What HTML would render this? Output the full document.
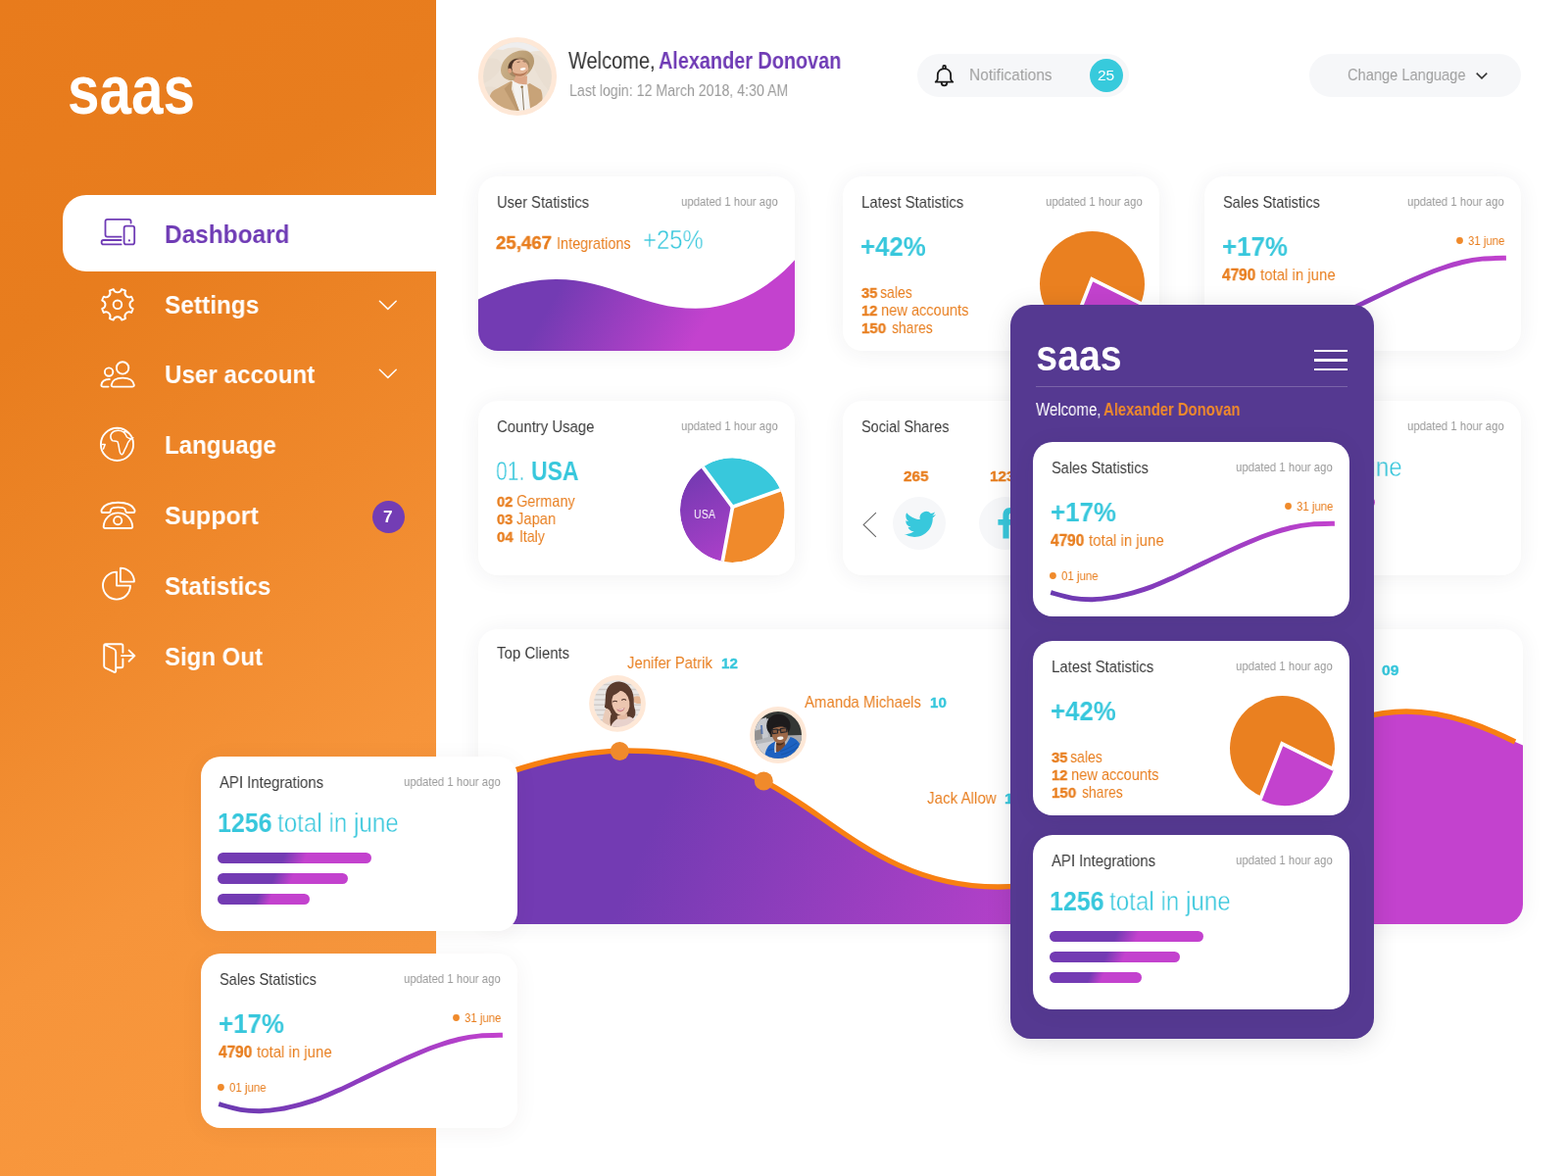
<!DOCTYPE html>
<html lang="en">
<head>
<meta charset="utf-8">
<title>saas dashboard</title>
<style>
*{box-sizing:border-box;margin:0;padding:0}
html,body{width:1600px;height:1200px;overflow:hidden;background:#fff}
body{position:relative;font-family:"Liberation Sans",sans-serif;}
.abs{position:absolute}
.t{position:absolute;white-space:nowrap;line-height:1;transform-origin:0 50%;will-change:transform;}
.t b{font-weight:700}
.th{-webkit-text-stroke:0.45px #fff}
.hv{-webkit-text-stroke:0.35px currentColor}
.side{position:absolute;left:0;top:0;width:445px;height:1200px;background:linear-gradient(146deg,#E87B1C 0%,#E87D1E 24%,#EF882B 47%,#F6943A 68%,#FA9A40 100%);}
.card{position:absolute;width:323px;height:177.5px;background:#fff;border-radius:20px;box-shadow:0 2px 22px rgba(40,40,60,0.065);overflow:hidden}
.pill{position:absolute;background:#F6F7F9;border-radius:22px;height:44px;top:55px}
.bar{position:absolute;height:11px;border-radius:6px;background:linear-gradient(112deg,#733BB3 0%,#733BB3 43%,#C342CE 57%,#C342CE 100%)}
svg{position:absolute;overflow:visible}
</style>
</head>
<body>
<svg width="0" height="0" style="left:0;top:0"><defs>
<linearGradient id="gw" gradientUnits="userSpaceOnUse" x1="111.7" y1="64.5" x2="238.2" y2="137.5"><stop offset="0" stop-color="#733BB3"/><stop offset="1" stop-color="#C342CE"/></linearGradient>
<linearGradient id="gl" x1="0" y1="0" x2="1" y2="0"><stop offset="0" stop-color="#6A3AB0"/><stop offset="0.45" stop-color="#8A3CBE"/><stop offset="1" stop-color="#C342CE"/></linearGradient>
<linearGradient id="gp" x1="0.2" y1="0" x2="0.8" y2="1"><stop offset="0" stop-color="#733BB3"/><stop offset="1" stop-color="#B240C9"/></linearGradient>
<linearGradient id="gt" gradientUnits="userSpaceOnUse" x1="700" y1="760" x2="1130" y2="940"><stop offset="0" stop-color="#733BB3"/><stop offset="1" stop-color="#C342CE"/></linearGradient>
</defs></svg>

<div class="side"></div>
<div class="abs" style="left:63.5px;top:199.3px;width:381.5px;height:77.4px;background:#fff;border-radius:24px 0 0 24px"></div>
<svg width="140" height="54" viewBox="0 0 140 54" style="left:64px;top:70px"><text x="5" y="45.5" font-family="Liberation Sans, sans-serif" font-size="70" font-weight="700" fill="#fff" textLength="130" lengthAdjust="spacingAndGlyphs">saas</text></svg>
<div class="t" style="left:167.90px;top:227.00px;font-size:25.5px;color:#6F3BB5;font-weight:700;transform:scaleX(0.9572);">Dashboard</div>
<div class="t" style="left:167.90px;top:299.00px;font-size:25.5px;color:#fff;font-weight:700;transform:scaleX(0.9573);">Settings</div>
<div class="t" style="left:167.90px;top:370.00px;font-size:25.5px;color:#fff;font-weight:700;transform:scaleX(0.9489);">User account</div>
<div class="t" style="left:167.90px;top:442.00px;font-size:25.5px;color:#fff;font-weight:700;transform:scaleX(0.9449);">Language</div>
<div class="t" style="left:167.90px;top:514.00px;font-size:25.5px;color:#fff;font-weight:700;transform:scaleX(0.9802);">Support</div>
<div class="t" style="left:167.90px;top:586.00px;font-size:25.5px;color:#fff;font-weight:700;transform:scaleX(0.9551);">Statistics</div>
<div class="t" style="left:167.90px;top:658.00px;font-size:25.5px;color:#fff;font-weight:700;transform:scaleX(0.9413);">Sign Out</div>
<svg width="445" height="1200" viewBox="0 0 445 1200" style="left:0;top:0"><g fill="none" stroke="#6F3BB5" stroke-width="1.8" stroke-linecap="round" stroke-linejoin="round"><path d="M133.6,227.6 L133.6,226 Q133.6,223.9 131.5,223.9 L109.6,223.9 Q107.5,223.9 107.5,226 L107.5,239.6 Q107.5,241.7 109.6,241.7 L123.6,241.7"/><path d="M123.6,245 L105.6,245 Q103.6,245 103.6,247.2 Q103.6,249.4 105.6,249.4 L123.6,249.4"/><rect x="126.6" y="230.7" width="10.6" height="18.7" rx="2.2"/></g><circle cx="131.9" cy="245.4" r="1.1" fill="#6F3BB5"/><path d="M135.69,315.02 A16.3,16.3 0 0 1 134.07,318.95 A4.35,4.35 0 0 0 128.10,324.92 A16.3,16.3 0 0 1 124.17,326.54 A4.35,4.35 0 0 0 115.73,326.54 A16.3,16.3 0 0 1 111.80,324.92 A4.35,4.35 0 0 0 105.83,318.95 A16.3,16.3 0 0 1 104.21,315.02 A4.35,4.35 0 0 0 104.21,306.58 A16.3,16.3 0 0 1 105.83,302.65 A4.35,4.35 0 0 0 111.80,296.68 A16.3,16.3 0 0 1 115.73,295.06 A4.35,4.35 0 0 0 124.17,295.06 A16.3,16.3 0 0 1 128.10,296.68 A4.35,4.35 0 0 0 134.07,302.65 A16.3,16.3 0 0 1 135.69,306.58 A4.35,4.35 0 0 0 135.69,315.02 Z" fill="none" stroke="#fff" stroke-width="1.9" stroke-linecap="round" stroke-linejoin="round"/><circle cx="119.95" cy="310.8" r="4.3" fill="none" stroke="#fff" stroke-width="1.9" stroke-linecap="round" stroke-linejoin="round"/><circle cx="125.1" cy="375.4" r="6.2" fill="none" stroke="#fff" stroke-width="1.9" stroke-linecap="round" stroke-linejoin="round"/><path d="M115.6,394.6 L134.9,394.6 Q136.9,394.6 136.8,392.8 C136,388.2 131.5,385.6 125.2,385.6 C118.9,385.6 114.4,388.2 113.7,392.8 Q113.6,394.6 115.6,394.6 Z" fill="none" stroke="#fff" stroke-width="1.9" stroke-linecap="round" stroke-linejoin="round"/><circle cx="111.1" cy="379.6" r="4.2" fill="none" stroke="#fff" stroke-width="1.9" stroke-linecap="round" stroke-linejoin="round"/><path d="M111.8,387 C107,386.9 103.9,389.4 103.4,392.9 Q103.3,394.6 105.2,394.6 L110.6,394.6" fill="none" stroke="#fff" stroke-width="1.9" stroke-linecap="round" stroke-linejoin="round"/><circle cx="119.5" cy="453.4" r="16.6" fill="none" stroke="#fff" stroke-width="1.9" stroke-linecap="round" stroke-linejoin="round"/><path d="M116.5,440 C119.5,439 123.5,439.3 126,440.8 C128,442.2 128.3,444 129.5,446 C131,447.3 133,447.5 133.6,448 C131.8,450 130.6,451 129.8,453.5 C129.3,456 127.8,457.5 127,459.5 C126.2,461.5 125.8,463.3 124.6,463.8 C122.6,464 122.3,461.5 121.8,459 C121.3,456.2 121.2,453.5 120,450.8 C118.3,449.3 116,450.3 114.6,449.6 C113.2,448.3 112.7,446 113,444 C113.6,442 114.8,440.8 116.5,440 Z M133.6,448 L135.8,446.6 M126,440.8 C128.3,439.9 129.6,440.5 130.6,441.8 M104.3,453.6 L107.2,453.6 L105.5,458" fill="none" stroke="#fff" stroke-width="1.5" stroke-linecap="round" stroke-linejoin="round"/><path d="M104.6,523 C103.2,523 103.4,521 103.8,519.8 C106,515 112.5,512.7 120.5,512.7 C128.5,512.7 135,515 137.2,519.8 C137.6,521 137.8,523 136.4,523 L129.6,523 C128,523 128.4,521 127.6,519.6 C126.6,518 123.6,517.6 120.5,517.6 C117.4,517.6 114.4,518 113.4,519.6 C112.6,521 113,523 111.4,523 Z" fill="none" stroke="#fff" stroke-width="1.9" stroke-linecap="round" stroke-linejoin="round"/><path d="M107.6,539 L133.3,539 Q135.4,539 135.2,537 C134.6,529.5 128.6,523.4 120.4,523.4 C112.2,523.4 106.3,529.5 105.7,537 Q105.5,539 107.6,539 Z" fill="none" stroke="#fff" stroke-width="1.9" stroke-linecap="round" stroke-linejoin="round"/><circle cx="120.2" cy="531.2" r="4.1" fill="none" stroke="#fff" stroke-width="1.9" stroke-linecap="round" stroke-linejoin="round"/><path d="M119,583.6 A14,14 0 1 0 133,597.6 L119,597.6 Z" fill="none" stroke="#fff" stroke-width="1.9" stroke-linecap="round" stroke-linejoin="round"/><path d="M122.9,579.6 A14,14 0 0 1 136.9,593.6 L122.9,593.6 Z" fill="none" stroke="#fff" stroke-width="1.9" stroke-linecap="round" stroke-linejoin="round"/><path d="M125.4,665.8 L125.4,659 Q125.4,657.2 123.6,657.2 L107.8,657.2 Q106.2,657.2 106.2,659 L106.2,679.6 Q106.2,681 107.6,681.6 L116.6,685.8 Q118.2,686.4 118.2,684.6 L118.2,665.6 Q118.2,663 116,662 L106.8,658 M118.4,681.3 L123.6,681.3 Q125.4,681.3 125.4,679.5 L125.4,672.4" fill="none" stroke="#fff" stroke-width="1.9" stroke-linecap="round" stroke-linejoin="round"/><path d="M124,669.1 L137.2,669.1 M131.6,663.6 L137.4,669.1 L131.6,674.8" fill="none" stroke="#fff" stroke-width="1.9" stroke-linecap="round" stroke-linejoin="round"/></svg>
<svg width="20" height="12" viewBox="0 0 20 12" style="left:386px;top:306px"><path d="M1.4,1.3 L9.8,9.4 L18.2,1.3" fill="none" stroke="#fff" stroke-width="1.5" stroke-linecap="round" stroke-linejoin="round"/></svg>
<svg width="20" height="12" viewBox="0 0 20 12" style="left:386px;top:376px"><path d="M1.4,1.3 L9.8,9.4 L18.2,1.3" fill="none" stroke="#fff" stroke-width="1.5" stroke-linecap="round" stroke-linejoin="round"/></svg>
<div class="abs" style="left:379.7px;top:511px;width:33px;height:33px;border-radius:50%;background:#733DB4"></div>
<div class="t" style="left:391.20px;top:519.00px;font-size:16.5px;color:#fff;font-weight:700;transform:scaleX(1.0449);">7</div>
<svg width="90" height="90" viewBox="0 0 90 90" style="left:483px;top:33px"><defs><clipPath id="ca0"><circle cx="45" cy="45" r="34.9"/></clipPath><linearGradient id="hat" x1="0" y1="0" x2="1" y2="1"><stop offset="0" stop-color="#CDB38C"/><stop offset="1" stop-color="#B2946A"/></linearGradient></defs><circle cx="45" cy="45" r="40.1" fill="#FEE8D7"/><g clip-path="url(#ca0)"><rect x="8" y="8" width="74" height="74" fill="#ECE2D6"/><path d="M8,8 H82 V22 C72,17 64,19 58,20 C50,15 38,14 30,18 C22,16 14,20 8,24 Z" fill="#EFEEEE"/><path d="M10,30 C18,24 26,26 30,34 C24,44 16,50 10,52 Z M60,22 C68,22 76,30 80,40 L80,62 C72,56 66,44 62,36 Z M12,56 C20,54 28,58 30,64 L14,70 Z" fill="#E6DACB" opacity="0.5"/><ellipse cx="45" cy="33.9" rx="18.6" ry="13.4" transform="rotate(-36 45 33.9)" fill="url(#hat)"/><ellipse cx="46.2" cy="35.6" rx="11.5" ry="9.6" transform="rotate(-30 46.2 35.6)" fill="#8F7352" opacity="0.55"/><path d="M35.6,36.5 C35.2,31.5 39.5,27.2 44.5,27 C47,26.9 49.5,27.2 51.4,28.4 L49,31 L40,38 L37.6,41 Z" fill="#4B3427"/><path d="M41,50.5 L43.2,44 L55,44.5 L54.6,53.5 L47,55 Z" fill="#DCA585"/><ellipse cx="47.8" cy="36.4" rx="8.4" ry="9.2" transform="rotate(-22 47.8 36.4)" fill="#E4B595"/><path d="M39.8,40.5 C41.6,44.6 46,45.6 50.4,44.2 C53.4,43.1 55.4,40.8 55.8,38 C54.2,40.8 51,42.6 47.4,42.4 C44.2,42.2 41.4,41.6 39.8,40.5 Z" fill="#B67B58"/><ellipse cx="37.2" cy="39.2" rx="1.9" ry="2.6" fill="#DCA27F"/><ellipse cx="50.6" cy="37.4" rx="2.9" ry="1.25" transform="rotate(-8 50.6 37.4)" fill="#fff"/><path d="M44.6,30.6 L47.6,30 M50.6,29.6 L53.4,30.2" stroke="#6b4a38" stroke-width="0.7" fill="none"/><path d="M38.8,49 L46.4,52.6 L55.2,53.4 L58.6,82 L46.4,82 Z" fill="#F4F2F0"/><path d="M16.4,66.6 C17.6,62 19.4,60 22,58.6 L38.6,49.6 L40,50.4 L38.8,58 L47.6,82 L20,82 Z" fill="#CCA87E"/><path d="M31.5,57.6 L38.8,50.2 L38.8,58 L47.6,82 L45.4,82 Z" fill="#B8946A" opacity="0.8"/><path d="M55.2,53 L57.6,52 L68.8,58.6 C70.4,62 70.8,66 70.4,69 L66,82 L58.6,82 Z" fill="#C8A378"/><path d="M49.9,57 L51.6,80" stroke="#7A6748" stroke-width="0.9"/><circle cx="49.6" cy="55.8" r="1.25" fill="#8A6A3A"/></g></svg>
<div class="t" style="left:580.30px;top:51.00px;font-size:23px;color:#333;transform:scaleX(0.8691);">Welcome,</div>
<div class="t" style="left:672.00px;top:51.00px;font-size:23px;color:#6F3BB5;font-weight:700;transform:scaleX(0.8625);">Alexander Donovan</div>
<div class="t" style="left:581.30px;top:84.00px;font-size:17px;color:#9c9c9c;transform:scaleX(0.8349);">Last login: 12 March 2018, 4:30 AM</div>
<div class="pill" style="left:936px;width:216px"></div>
<div class="pill" style="left:1336px;width:216px"></div>
<svg width="24" height="26" viewBox="0 0 24 26" style="left:952px;top:64px"><g fill="none" stroke="#1c1c1c" stroke-width="1.8" stroke-linejoin="round" stroke-linecap="round"><path d="M10.3,5.6 L10.3,3.9 Q10.3,3 11.2,3 L12,3 Q12.9,3 12.9,3.9 L12.9,5.6"/><path d="M4.8,16.4 L4.8,12.6 C4.8,8.7 7.6,6.1 11.5,6.1 C15.4,6.1 18.1,8.7 18.1,12.6 L18.1,16.4 C18.1,17.9 19.2,18.7 20.3,19.7 L2.7,19.7 C3.8,18.7 4.8,17.9 4.8,16.4 Z"/><path d="M8.7,20.4 C8.8,22.3 10,23.4 11.5,23.4 C13,23.4 14.2,22.3 14.3,20.4"/></g></svg>
<div class="t" style="left:989.00px;top:68.00px;font-size:17px;color:#9e9e9e;transform:scaleX(0.9135);">Notifications</div>
<div class="abs" style="left:1111.8px;top:59.8px;width:34px;height:34px;border-radius:50%;background:#37CADC"></div>
<div class="t" style="left:1120.40px;top:69.00px;font-size:15.5px;color:#fff;transform:scaleX(0.9739);">25</div>
<div class="t" style="left:1375.40px;top:68.00px;font-size:17px;color:#9e9e9e;transform:scaleX(0.8612);">Change Language</div>
<svg width="14" height="9" viewBox="0 0 14 9" style="left:1504.5px;top:73px"><path d="M1.7,1.6 L7,6.9 L12.3,1.6" fill="none" stroke="#333" stroke-width="1.5"/></svg>
<div class="card" style="left:488px;top:180px;"><svg width="323" height="178" viewBox="0 0 323 178" style="left:0;top:0"><path d="M0,125.6 C27,112 52,104.9 79.5,104.9 C135,104.9 168,134.8 221.7,134.8 C262,134.8 298,113 323,85.2 L323,178 L0,178 Z" fill="url(#gw)"/></svg></div>
<div class="t" style="left:506.70px;top:198.00px;font-size:17px;color:#3b3b3b;transform:scaleX(0.8652);">User Statistics</div><div class="t" style="left:694.80px;top:199.00px;font-size:13.5px;color:#9a9a9a;transform:scaleX(0.8437);">updated 1 hour ago</div>
<div class="t" style="left:506.20px;top:238.00px;font-size:19px;color:#E87E1F;transform:scaleX(0.9806);"><b class="hv">25,467</b></div>
<div class="t" style="left:568.00px;top:240.00px;font-size:17px;color:#E87E1F;transform:scaleX(0.8509);"><span>Integrations</span></div>
<div class="t" style="left:655.60px;top:232.00px;font-size:27px;color:#37C7DC;transform:scaleX(0.8852);"><span class="th">+25%</span></div>
<div class="card" style="left:860px;top:180px;"><svg width="323" height="178" viewBox="0 0 323 178" style="left:0;top:0"><circle cx="254.5" cy="109.6" r="53.5" fill="#EA8020"/><path d="M254.2,104.9 L307.0,131.1 A52.4,52.4 0 0 1 231.9,161.8 Z" fill="#C342CE"/><path d="M307.0,131.1 L254.2,104.9 L231.9,161.8" fill="none" stroke="#fff" stroke-width="3.7" stroke-linejoin="miter" stroke-linecap="butt"/></svg></div><div class="t" style="left:878.70px;top:198.00px;font-size:17px;color:#3b3b3b;transform:scaleX(0.8760);">Latest Statistics</div><div class="t" style="left:1066.80px;top:199.00px;font-size:13.5px;color:#9a9a9a;transform:scaleX(0.8437);">updated 1 hour ago</div><div class="t" style="left:878.00px;top:239.00px;font-size:27px;color:#37C7DC;font-weight:700;transform:scaleX(0.9568);">+42%</div><div class="t" style="left:878.50px;top:291.00px;font-size:15.5px;color:#E87E1F;font-weight:700;transform:scaleX(0.9565);"><span class="hv">35</span></div><div class="t" style="left:898.00px;top:290.00px;font-size:17px;color:#E87E1F;transform:scaleX(0.8265);"><span>sales</span></div><div class="t" style="left:878.50px;top:309.00px;font-size:15.5px;color:#E87E1F;font-weight:700;transform:scaleX(0.9565);"><span class="hv">12</span></div><div class="t" style="left:898.80px;top:308.00px;font-size:17px;color:#E87E1F;transform:scaleX(0.8600);"><span>new accounts</span></div><div class="t" style="left:878.50px;top:327.00px;font-size:15.5px;color:#E87E1F;font-weight:700;transform:scaleX(0.9739);"><span class="hv">150</span></div><div class="t" style="left:909.80px;top:326.00px;font-size:17px;color:#E87E1F;transform:scaleX(0.8171);"><span>shares</span></div>
<div class="card" style="left:1229px;top:180px;"><svg width="323" height="178" viewBox="0 0 323 178" style="left:0;top:0"><path d="M18.2,153.6 C21.9,154.6 33.4,158.1 40.5,159.3 C47.6,160.5 54.0,160.8 60.8,160.7 C67.5,160.6 74.2,159.8 81,158.7 C87.8,157.6 94.5,155.9 101.3,154.1 C108.0,152.2 114.8,150.1 121.5,147.6 C128.2,145.1 135.1,141.9 141.8,138.9 C148.6,135.9 155.2,132.6 162,129.4 C168.8,126.2 175.6,122.8 182.3,119.6 C189.1,116.4 195.8,113.2 202.5,110.1 C209.2,107.0 216.1,104.0 222.8,101.2 C229.6,98.4 236.2,95.8 243,93.5 C249.8,91.2 256.6,89.1 263.3,87.5 C270.1,85.9 276.1,84.8 283.5,84.1 C290.9,83.4 303.8,83.3 307.9,83.2" fill="none" stroke="url(#gl)" stroke-width="4.9"/>
<circle cx="260.5" cy="65.5" r="3.4" fill="#F08A2B"/><circle cx="20.4" cy="136.5" r="3.4" fill="#F08A2B"/></svg></div><div class="t" style="left:1247.70px;top:198.00px;font-size:17px;color:#3b3b3b;transform:scaleX(0.8572);">Sales Statistics</div><div class="t" style="left:1435.80px;top:199.00px;font-size:13.5px;color:#9a9a9a;transform:scaleX(0.8437);">updated 1 hour ago</div><div class="t" style="left:1246.80px;top:239.00px;font-size:27px;color:#37C7DC;font-weight:700;transform:scaleX(0.9597);">+17%</div><div class="t" style="left:1247.00px;top:273.00px;font-size:16px;color:#E87E1F;font-weight:700;transform:scaleX(0.9608);"><span class="hv">4790</span></div><div class="t" style="left:1285.50px;top:272.00px;font-size:17px;color:#E87E1F;transform:scaleX(0.8821);"><span>total in june</span></div><div class="t" style="left:1498.30px;top:239.00px;font-size:13.5px;color:#E87E1F;transform:scaleX(0.8443);">31 june</div><div class="t" style="left:1258.00px;top:310.00px;font-size:13.5px;color:#E87E1F;transform:scaleX(0.8488);">01 june</div>
<div class="card" style="left:488px;top:409px;"><svg width="323" height="178" viewBox="0 0 323 178" style="left:0;top:0"><defs><clipPath id="cp3"><circle cx="259.30" cy="111.60" r="53.30"/></clipPath><linearGradient id="gp3" gradientUnits="userSpaceOnUse" x1="215" y1="80" x2="258" y2="165"><stop offset="0" stop-color="#773AB3"/><stop offset="1" stop-color="#AE40CA"/></linearGradient></defs><g clip-path="url(#cp3)"><path d="M259.50,108.30 L229.21,67.61 A53.3,53.3 0 0 1 308.36,90.78 Z" fill="#38C8DC"/><path d="M259.50,108.30 L308.36,90.78 A53.3,53.3 0 0 1 249.21,163.94 Z" fill="#F08A2B"/><path d="M259.50,108.30 L249.21,163.94 A53.3,53.3 0 0 1 229.21,67.61 Z" fill="url(#gp3)"/><path d="M259.50,108.30 L220.12,55.40" stroke="#fff" stroke-width="3.7" stroke-linecap="round"/><path d="M259.50,108.30 L323.02,85.52" stroke="#fff" stroke-width="3.7" stroke-linecap="round"/><path d="M259.50,108.30 L246.12,180.63" stroke="#fff" stroke-width="3.7" stroke-linecap="round"/></g></svg></div>
<div class="t" style="left:506.70px;top:427.00px;font-size:17px;color:#3b3b3b;transform:scaleX(0.8766);">Country Usage</div><div class="t" style="left:694.80px;top:428.00px;font-size:13.5px;color:#9a9a9a;transform:scaleX(0.8437);">updated 1 hour ago</div>
<div class="t" style="left:505.90px;top:468.00px;font-size:27px;color:#37C7DC;transform:scaleX(0.7830);"><span class="th">01.</span></div>
<div class="t" style="left:542.20px;top:468.00px;font-size:27px;color:#37C7DC;font-weight:700;transform:scaleX(0.8506);">USA</div>
<div class="t" style="left:506.60px;top:504.00px;font-size:15.5px;color:#E87E1F;font-weight:700;transform:scaleX(0.9507);"><span class="hv">02</span></div>
<div class="t" style="left:526.75px;top:503.00px;font-size:16.5px;color:#E87E1F;transform:scaleX(0.8805);"><span>Germany</span></div>
<div class="t" style="left:506.60px;top:522.00px;font-size:15.5px;color:#E87E1F;font-weight:700;transform:scaleX(0.9507);"><span class="hv">03</span></div>
<div class="t" style="left:526.75px;top:521.00px;font-size:16.5px;color:#E87E1F;transform:scaleX(0.8951);"><span>Japan</span></div>
<div class="t" style="left:506.60px;top:540.00px;font-size:15.5px;color:#E87E1F;font-weight:700;transform:scaleX(0.9739);"><span class="hv">04</span></div>
<div class="t" style="left:529.70px;top:539.00px;font-size:16.5px;color:#E87E1F;transform:scaleX(0.8525);"><span>Italy</span></div>
<div class="t" style="left:707.70px;top:519.00px;font-size:12px;color:#fff;transform:scaleX(0.8871);">USA</div>
<div class="card" style="left:860px;top:409px;"><div class="abs" style="left:50.9px;top:98px;width:54px;height:54px;border-radius:50%;background:#F6F7F9"></div><div class="abs" style="left:139.1px;top:98px;width:54px;height:54px;border-radius:50%;background:#F6F7F9"></div><svg width="16" height="28" viewBox="0 0 16 28" style="left:20.0px;top:113.0px"><path d="M13.9,1.1 L1.2,13.4 L13.9,25.8" fill="none" stroke="#6a6a6a" stroke-width="1.15"/></svg><svg width="32" height="32" viewBox="0 0 24 24" style="left:63.1px;top:109.9px"><path fill="#38C8DC" d="M23.953 4.57a10 10 0 01-2.825.775 4.958 4.958 0 002.163-2.723c-.951.555-2.005.959-3.127 1.184a4.92 4.92 0 00-8.384 4.482C7.69 8.095 4.067 6.13 1.64 3.162a4.822 4.822 0 00-.666 2.475c0 1.71.87 3.213 2.188 4.096a4.904 4.904 0 01-2.228-.616v.06a4.923 4.923 0 003.946 4.827 4.996 4.996 0 01-2.212.085 4.936 4.936 0 004.604 3.417 9.867 9.867 0 01-6.102 2.105c-.39 0-.779-.023-1.17-.067a13.995 13.995 0 007.557 2.209c9.053 0 13.998-7.496 13.998-13.985 0-.21 0-.42-.015-.63A9.935 9.935 0 0024 4.59z"/></svg><svg width="19.7" height="31.5" viewBox="0 0 320 512" style="left:156.5px;top:109.4px"><path fill="#38C8DC" d="M279.14 288l14.22-92.66h-88.91v-60.13c0-25.35 12.42-50.06 52.24-50.06h40.42V6.26S260.43 0 225.36 0c-73.22 0-121.08 44.38-121.08 124.72v70.62H22.89V288h81.39v224h100.17V288z"/></svg></div>
<div class="t" style="left:878.70px;top:427.00px;font-size:17px;color:#3b3b3b;transform:scaleX(0.8523);">Social Shares</div>
<div class="t" style="left:921.50px;top:478.00px;font-size:15.5px;color:#E87E1F;font-weight:700;transform:scaleX(0.9855);"><span class="hv">265</span></div>
<div class="t" style="left:1010.40px;top:478.00px;font-size:15.5px;color:#E87E1F;font-weight:700;transform:scaleX(0.9855);"><span class="hv">123</span></div>
<div class="card" style="left:1229px;top:409px;"><div class="bar" style="left:17px;top:98px;width:157px"></div><div class="bar" style="left:17px;top:119px;width:133px"></div><div class="bar" style="left:17px;top:140px;width:94px"></div></div><div class="t" style="left:1247.70px;top:427.00px;font-size:17px;color:#3b3b3b;transform:scaleX(0.8771);">API Integrations</div><div class="t" style="left:1435.80px;top:428.00px;font-size:13.5px;color:#9a9a9a;transform:scaleX(0.8437);">updated 1 hour ago</div><div class="t" style="left:1245.90px;top:464.00px;font-size:27px;color:#37C7DC;font-weight:700;transform:scaleX(0.9255);">1256</div><div class="t" style="left:1307.10px;top:464.00px;font-size:27px;color:#37C7DC;transform:scaleX(0.8964);"><span class="th">total in june</span></div>
<div class="abs" style="left:488px;top:642px;width:1065.5px;height:300.5px;background:#fff;border-radius:20px;box-shadow:0 2px 22px rgba(40,40,60,0.065);overflow:hidden"><svg width="1066" height="301" viewBox="488 642 1066 301" style="left:0;top:0"><path d="M488,801 C530,781 590,766 640,766 C700,766 742,778 779,797 C850,833 905,905 1019,905 C1150,905 1300,726 1435,726 C1480,726 1520,744 1546,757 L1554,760.5 L1554,943 L488,943 Z" fill="url(#gt)"/><path d="M488,801 C530,781 590,766 640,766 C700,766 742,778 779,797 C850,833 905,905 1019,905 C1150,905 1300,726 1435,726 C1480,726 1520,744 1546,757" fill="none" stroke="#F88012" stroke-width="5.4"/><circle cx="632.3" cy="766.5" r="9.5" fill="#F08A2B"/><circle cx="779.3" cy="797" r="9.5" fill="#F08A2B"/></svg></div>
<div class="t" style="left:507.30px;top:658.00px;font-size:17px;color:#3b3b3b;transform:scaleX(0.8822);">Top Clients</div>
<div class="t" style="left:640.00px;top:668.00px;font-size:17px;color:#E87E1F;transform:scaleX(0.8750);"><span>Jenifer Patrik</span></div>
<div class="t" style="left:735.50px;top:669.00px;font-size:15px;color:#37C7DC;font-weight:700;transform:scaleX(1.0067);"><span class="hv">12</span></div>
<div class="t" style="left:821.30px;top:708.00px;font-size:17px;color:#E87E1F;transform:scaleX(0.8807);"><span>Amanda Michaels</span></div>
<div class="t" style="left:949.00px;top:709.00px;font-size:15px;color:#37C7DC;font-weight:700;transform:scaleX(1.0067);"><span class="hv">10</span></div>
<div class="t" style="left:945.50px;top:806.00px;font-size:17px;color:#E87E1F;transform:scaleX(0.8907);"><span>Jack Allow</span></div>
<div class="t" style="left:1025.00px;top:807.00px;font-size:15px;color:#37C7DC;font-weight:700;transform:scaleX(1.0593);"><span class="hv">11</span></div>
<div class="t" style="left:1409.50px;top:676.00px;font-size:15px;color:#37C7DC;font-weight:700;transform:scaleX(1.0487);"><span class="hv">09</span></div>
<svg width="68" height="68" viewBox="0 0 68 68" style="left:596px;top:684px"><defs><clipPath id="ca1"><circle cx="34" cy="33.9" r="24"/></clipPath></defs><circle cx="34" cy="33.9" r="28.9" fill="#FEE8D7"/><g clip-path="url(#ca1)"><rect x="9" y="9" width="50" height="50" fill="#E9E6E4"/><path d="M9,14.5 H59 M9,19.6 H59 M9,24.8 H59 M9,30 H59 M9,35.2 H59 M9,40.4 H59 M9,45.6 H59 M9,50.8 H59" stroke="#D2CCC8" stroke-width="1.5"/><path d="M50.5,27 C53,25.6 56.6,26 58.5,27.4 L58.5,33.6 C55.6,34.6 52.4,34 50.6,32.6 Z" fill="#E6B896"/><path d="M36,11.6 C28.6,11.2 23.2,16.6 22.2,23.6 C21.4,29.6 22,33.6 20.8,37.6 C24,40 26.4,42 27.6,44.4 C26,48 24.6,51.6 27,57.6 L35,57.6 L50,49 C52.6,46.6 53,42.6 51.6,39 C50,34.6 51.4,30 50.2,25.4 C48.8,18 43.6,12 36,11.6 Z" fill="#5A3B2D"/><path d="M18.6,52 C19.6,47 20.4,42.4 22.4,39 C24.6,38.6 27,41 27.6,44.6 C26.4,48.6 26,52.6 27.4,57.6 L19,57.6 Z" fill="#EACBB8"/><path d="M27,58 C29,52.6 34,48.4 38.6,47.6 L46.4,47.2 C50,48.4 53.6,51.6 55,58 Z" fill="#E8D2CC"/><path d="M33.6,46.6 L43.6,44 L44.6,48.6 C41.6,50.6 37,50.6 34,49.4 Z" fill="#E3B9A2"/><ellipse cx="37.4" cy="33.4" rx="9" ry="12.6" transform="rotate(-9 37.4 33.4)" fill="#ECC6B0"/><path d="M28.4,26 C29.6,20.6 34,17.6 38.6,18.2 C42,18.8 44.8,21 46.2,24.6 C42.6,23.4 40,21.6 38,19.8 C35.6,22.6 32,25 28.4,26 Z" fill="#5A3B2D"/><path d="M33.2,39.4 C35.6,40.2 39.6,39.6 41.6,37.8 C41.2,40.6 39.4,42.2 37.2,42.2 C35.2,42.2 33.8,41 33.2,39.4 Z" fill="#C77B7E"/><path d="M34,39.6 C36,40.2 39,39.8 40.8,38.6 C40,40 38.6,40.6 37,40.6 C35.8,40.6 34.6,40.2 34,39.6 Z" fill="#fff"/><path d="M29.6,32 C30.6,31.2 32.4,31.2 33.4,31.8 M38.6,30.2 C39.8,29.4 41.6,29.4 42.6,30.2" stroke="#4a3027" stroke-width="1.1" fill="none" stroke-linecap="round"/></g></svg><svg width="68" height="68" viewBox="0 0 68 68" style="left:760px;top:716px"><defs><clipPath id="ca2"><circle cx="34" cy="34" r="24"/></clipPath></defs><circle cx="34" cy="34" r="28.9" fill="#FEE8D7"/><g clip-path="url(#ca2)"><rect x="9" y="9" width="50" height="50" fill="#343835"/><path d="M9,22 L24,17 L26,36 L58,35 L58,59 L9,59 Z" fill="#B4B6BA"/><path d="M9,20 L22,16 L24,36 L9,40 Z" fill="#C7C9CE"/><path d="M9,30 L17,28 L18,38 L9,40 Z" fill="#6f6a66" opacity="0.6"/><path d="M16,24 L18,24 L18.6,33 L16.6,33 Z" fill="#3B5FA8" opacity="0.7"/><path d="M9,44 L30,40 L30,59 L9,59 Z" fill="#CFD0D4"/><path d="M42,34.6 L58,34 L58,44 L46,42 Z" fill="#A9AAAD"/><ellipse cx="34.4" cy="24.6" rx="12.2" ry="11.8" fill="#1D1B1C"/><path d="M29.4,42 L40.6,40.6 L42,47 L33,52 L29,50 Z" fill="#7C4B30"/><ellipse cx="35.8" cy="32.6" rx="8.2" ry="10.4" transform="rotate(-6 35.8 32.6)" fill="#9C6848"/><path d="M27.6,27.4 C29,23 33,21 37,21.4 C40.6,21.8 43,24 43.6,27 C40,25.4 36,25 32.6,26 C30.6,26.6 28.8,27.2 27.6,27.4 Z" fill="#1D1B1C"/><path d="M27.8,28.6 L33.2,28 L33.6,32 L28.6,32.6 Z M36.4,27.6 L42.4,26.8 L42.8,30.8 L36.8,31.6 Z M33.2,29 L36.4,28.6" fill="#6b4a36" fill-opacity="0.5" stroke="#26262a" stroke-width="1.1" stroke-linejoin="round"/><ellipse cx="36.2" cy="37.2" rx="3.3" ry="1.7" transform="rotate(-5 36.2 37.2)" fill="#F6F3F0"/><path d="M31.4,41.4 C33.6,43.2 38,43 40.6,40.4 C39.6,43.6 37,44.8 34.6,44.4 C33,44.2 31.8,43 31.4,41.4 Z" fill="#3a2418" opacity="0.8"/><path d="M20.4,55 C21.4,49 23.6,44.6 27.4,42.4 L31,40.6 C31.6,44 32,47 31.4,50.6 L33.6,51.6 C38,48.6 42,44 44.6,39.4 L46.6,36 C50.6,37 54,39.6 56,43 L54,52 L42,59 L22,59 Z" fill="#1D62C1"/><path d="M31,41 C30.2,45 30,49 30.6,52 L32,52 C31.6,48 31.8,44 32.2,41.6 Z" fill="#E8E4E0"/><path d="M36,50.6 C40,49.6 47,46.6 53,42 M37,54 C42,53 49,50 54.6,46 M24,50 C26,49 28,48.4 30,48.4" stroke="#164F9E" stroke-width="0.9" fill="none" opacity="0.8"/></g></svg>
<div class="card" style="box-shadow:0 3px 24px rgba(60,30,10,0.05);left:205px;top:772px;"><div class="bar" style="left:17px;top:98px;width:157px"></div><div class="bar" style="left:17px;top:119px;width:133px"></div><div class="bar" style="left:17px;top:140px;width:94px"></div></div><div class="t" style="left:223.70px;top:790.00px;font-size:17px;color:#3b3b3b;transform:scaleX(0.8771);">API Integrations</div><div class="t" style="left:411.80px;top:791.00px;font-size:13.5px;color:#9a9a9a;transform:scaleX(0.8437);">updated 1 hour ago</div><div class="t" style="left:221.90px;top:827.00px;font-size:27px;color:#37C7DC;font-weight:700;transform:scaleX(0.9255);">1256</div><div class="t" style="left:283.10px;top:827.00px;font-size:27px;color:#37C7DC;transform:scaleX(0.8964);"><span class="th">total in june</span></div>
<div class="card" style="box-shadow:0 3px 24px rgba(60,30,10,0.05);left:205px;top:973px;"><svg width="323" height="178" viewBox="0 0 323 178" style="left:0;top:0"><path d="M18.2,153.6 C21.9,154.6 33.4,158.1 40.5,159.3 C47.6,160.5 54.0,160.8 60.8,160.7 C67.5,160.6 74.2,159.8 81,158.7 C87.8,157.6 94.5,155.9 101.3,154.1 C108.0,152.2 114.8,150.1 121.5,147.6 C128.2,145.1 135.1,141.9 141.8,138.9 C148.6,135.9 155.2,132.6 162,129.4 C168.8,126.2 175.6,122.8 182.3,119.6 C189.1,116.4 195.8,113.2 202.5,110.1 C209.2,107.0 216.1,104.0 222.8,101.2 C229.6,98.4 236.2,95.8 243,93.5 C249.8,91.2 256.6,89.1 263.3,87.5 C270.1,85.9 276.1,84.8 283.5,84.1 C290.9,83.4 303.8,83.3 307.9,83.2" fill="none" stroke="url(#gl)" stroke-width="4.9"/>
<circle cx="260.5" cy="65.5" r="3.4" fill="#F08A2B"/><circle cx="20.4" cy="136.5" r="3.4" fill="#F08A2B"/></svg></div><div class="t" style="left:223.70px;top:991.00px;font-size:17px;color:#3b3b3b;transform:scaleX(0.8572);">Sales Statistics</div><div class="t" style="left:411.80px;top:992.00px;font-size:13.5px;color:#9a9a9a;transform:scaleX(0.8437);">updated 1 hour ago</div><div class="t" style="left:222.80px;top:1032.00px;font-size:27px;color:#37C7DC;font-weight:700;transform:scaleX(0.9597);">+17%</div><div class="t" style="left:223.00px;top:1066.00px;font-size:16px;color:#E87E1F;font-weight:700;transform:scaleX(0.9608);"><span class="hv">4790</span></div><div class="t" style="left:261.50px;top:1065.00px;font-size:17px;color:#E87E1F;transform:scaleX(0.8821);"><span>total in june</span></div><div class="t" style="left:474.30px;top:1032.00px;font-size:13.5px;color:#E87E1F;transform:scaleX(0.8443);">31 june</div><div class="t" style="left:234.00px;top:1103.00px;font-size:13.5px;color:#E87E1F;transform:scaleX(0.8488);">01 june</div>
<div class="abs" style="left:1031px;top:311px;width:371px;height:748.6px;border-radius:21px;background:#553991;box-shadow:0 4px 26px rgba(10,10,20,0.13)"></div>
<svg width="94.1" height="34.45" viewBox="0 0 140 54" preserveAspectRatio="none" style="left:1053.5px;top:348.55px"><text x="5" y="45.5" font-family="Liberation Sans, sans-serif" font-size="70" font-weight="700" fill="#fff" textLength="130" lengthAdjust="spacingAndGlyphs">saas</text></svg>
<div class="abs" style="left:1341px;top:356.5px;width:34px;height:2.8px;background:#fff"></div><div class="abs" style="left:1341px;top:366px;width:34px;height:2.8px;background:#fff"></div><div class="abs" style="left:1341px;top:375.5px;width:34px;height:2.8px;background:#fff"></div>
<div class="abs" style="left:1057px;top:393.5px;width:318px;height:1px;background:rgba(255,255,255,0.22)"></div>
<div class="t" style="left:1057.00px;top:410.00px;font-size:17.5px;color:#fff;transform:scaleX(0.8582);">Welcome,</div>
<div class="t" style="left:1126.20px;top:410.00px;font-size:17.5px;color:#F08A2B;font-weight:700;transform:scaleX(0.8481);">Alexander Donovan</div>
<div class="card" style="left:1054px;top:451px;"><svg width="323" height="178" viewBox="0 0 323 178" style="left:0;top:0"><path d="M18.2,153.6 C21.9,154.6 33.4,158.1 40.5,159.3 C47.6,160.5 54.0,160.8 60.8,160.7 C67.5,160.6 74.2,159.8 81,158.7 C87.8,157.6 94.5,155.9 101.3,154.1 C108.0,152.2 114.8,150.1 121.5,147.6 C128.2,145.1 135.1,141.9 141.8,138.9 C148.6,135.9 155.2,132.6 162,129.4 C168.8,126.2 175.6,122.8 182.3,119.6 C189.1,116.4 195.8,113.2 202.5,110.1 C209.2,107.0 216.1,104.0 222.8,101.2 C229.6,98.4 236.2,95.8 243,93.5 C249.8,91.2 256.6,89.1 263.3,87.5 C270.1,85.9 276.1,84.8 283.5,84.1 C290.9,83.4 303.8,83.3 307.9,83.2" fill="none" stroke="url(#gl)" stroke-width="4.9"/>
<circle cx="260.5" cy="65.5" r="3.4" fill="#F08A2B"/><circle cx="20.4" cy="136.5" r="3.4" fill="#F08A2B"/></svg></div><div class="t" style="left:1072.70px;top:469.00px;font-size:17px;color:#3b3b3b;transform:scaleX(0.8572);">Sales Statistics</div><div class="t" style="left:1260.80px;top:470.00px;font-size:13.5px;color:#9a9a9a;transform:scaleX(0.8437);">updated 1 hour ago</div><div class="t" style="left:1071.80px;top:510.00px;font-size:27px;color:#37C7DC;font-weight:700;transform:scaleX(0.9597);">+17%</div><div class="t" style="left:1072.00px;top:544.00px;font-size:16px;color:#E87E1F;font-weight:700;transform:scaleX(0.9608);"><span class="hv">4790</span></div><div class="t" style="left:1110.50px;top:543.00px;font-size:17px;color:#E87E1F;transform:scaleX(0.8821);"><span>total in june</span></div><div class="t" style="left:1323.30px;top:510.00px;font-size:13.5px;color:#E87E1F;transform:scaleX(0.8443);">31 june</div><div class="t" style="left:1083.00px;top:581.00px;font-size:13.5px;color:#E87E1F;transform:scaleX(0.8488);">01 june</div>
<div class="card" style="left:1054px;top:654px;"><svg width="323" height="178" viewBox="0 0 323 178" style="left:0;top:0"><circle cx="254.5" cy="109.6" r="53.5" fill="#EA8020"/><path d="M254.2,104.9 L307.0,131.1 A52.4,52.4 0 0 1 231.9,161.8 Z" fill="#C342CE"/><path d="M307.0,131.1 L254.2,104.9 L231.9,161.8" fill="none" stroke="#fff" stroke-width="3.7" stroke-linejoin="miter" stroke-linecap="butt"/></svg></div><div class="t" style="left:1072.70px;top:672.00px;font-size:17px;color:#3b3b3b;transform:scaleX(0.8760);">Latest Statistics</div><div class="t" style="left:1260.80px;top:673.00px;font-size:13.5px;color:#9a9a9a;transform:scaleX(0.8437);">updated 1 hour ago</div><div class="t" style="left:1072.00px;top:713.00px;font-size:27px;color:#37C7DC;font-weight:700;transform:scaleX(0.9568);">+42%</div><div class="t" style="left:1072.50px;top:765.00px;font-size:15.5px;color:#E87E1F;font-weight:700;transform:scaleX(0.9565);"><span class="hv">35</span></div><div class="t" style="left:1092.00px;top:764.00px;font-size:17px;color:#E87E1F;transform:scaleX(0.8265);"><span>sales</span></div><div class="t" style="left:1072.50px;top:783.00px;font-size:15.5px;color:#E87E1F;font-weight:700;transform:scaleX(0.9565);"><span class="hv">12</span></div><div class="t" style="left:1092.80px;top:782.00px;font-size:17px;color:#E87E1F;transform:scaleX(0.8600);"><span>new accounts</span></div><div class="t" style="left:1072.50px;top:801.00px;font-size:15.5px;color:#E87E1F;font-weight:700;transform:scaleX(0.9739);"><span class="hv">150</span></div><div class="t" style="left:1103.80px;top:800.00px;font-size:17px;color:#E87E1F;transform:scaleX(0.8171);"><span>shares</span></div>
<div class="card" style="left:1054px;top:852px;"><div class="bar" style="left:17px;top:98px;width:157px"></div><div class="bar" style="left:17px;top:119px;width:133px"></div><div class="bar" style="left:17px;top:140px;width:94px"></div></div><div class="t" style="left:1072.70px;top:870.00px;font-size:17px;color:#3b3b3b;transform:scaleX(0.8771);">API Integrations</div><div class="t" style="left:1260.80px;top:871.00px;font-size:13.5px;color:#9a9a9a;transform:scaleX(0.8437);">updated 1 hour ago</div><div class="t" style="left:1070.90px;top:907.00px;font-size:27px;color:#37C7DC;font-weight:700;transform:scaleX(0.9255);">1256</div><div class="t" style="left:1132.10px;top:907.00px;font-size:27px;color:#37C7DC;transform:scaleX(0.8964);"><span class="th">total in june</span></div>
</body>
</html>
